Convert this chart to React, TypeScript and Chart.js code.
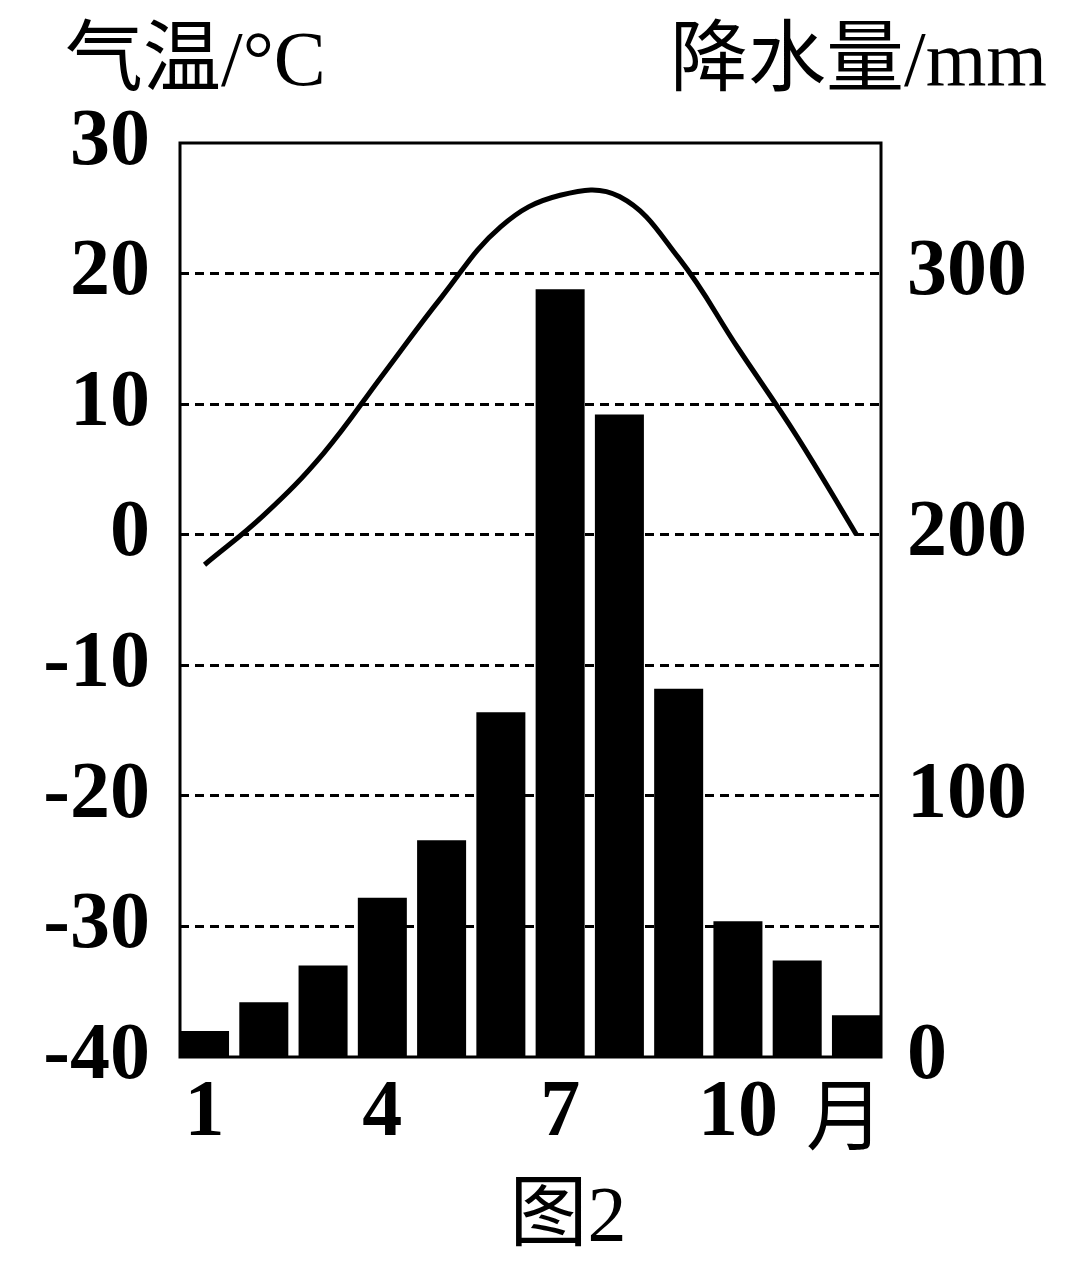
import React, { useEffect, useRef } from "react";
import { Chart, registerables } from "chart.js";

Chart.register(...registerables);

const months = [1, 2, 3, 4, 5, 6, 7, 8, 9, 10, 11, 12];
const monthLabels = ["1", "", "", "4", "", "", "7", "", "", "10", "", ""];
const monthUnit = "月";
const temperature = [-2.3, 1.5, 6.2, 12.2, 18.2, 23.6, 26.0, 25.9, 21.2, 14.3, 7.5, 0];
const precipitation = [10, 21, 35, 61, 83, 132, 294, 246, 141, 52, 37, 16];
const tempTicks = [-40, -30, -20, -10, 0, 10, 20, 30];
const precipTicks = [0, 100, 200, 300];
const leftTitle = "气温/°C";
const rightTitle = "降水量/mm";
const caption = "图2";

const FONT = "'Liberation Serif', 'Noto Sans CJK SC', serif";

const textPlugin = {
  id: "frameAndText",
  afterDraw(chart: any) {
    const { ctx, chartArea } = chart;
    ctx.save();
    ctx.strokeStyle = "#000";
    ctx.lineWidth = 3;
    ctx.setLineDash([]);
    ctx.strokeRect(chartArea.left, chartArea.top, chartArea.right - chartArea.left, chartArea.bottom - chartArea.top);
    ctx.fillStyle = "#000";
    ctx.font = `78px ${FONT}`;
    ctx.textBaseline = "middle";
    ctx.textAlign = "left";
    ctx.fillText(leftTitle, 65, 65);
    ctx.textAlign = "right";
    ctx.fillText(rightTitle, 1047, 65);
    ctx.textAlign = "center";
    ctx.fillText(caption, 568, 1220);
    ctx.fillText(monthUnit, 845, 1124);
    ctx.restore();
  },
};

export default function App() {
  const canvasRef = useRef<HTMLCanvasElement | null>(null);

  useEffect(() => {
    if (!canvasRef.current) return;
    const chart = new Chart(canvasRef.current, {
      type: "bar",
      data: {
        datasets: [
          {
            type: "line",
            label: "气温",
            data: months.map((m, i) => ({ x: m, y: temperature[i] })),
            yAxisID: "yL",
            borderColor: "#000",
            borderWidth: 5,
            pointRadius: 0,
            tension: 0.4,
            fill: false,
            order: 0,
          } as any,
          {
            type: "bar",
            label: "降水量",
            data: months.map((m, i) => ({ x: m, y: precipitation[i] })),
            yAxisID: "yR",
            backgroundColor: "#000",
            borderWidth: 0,
            barPercentage: 0.827,
            categoryPercentage: 1,
            order: 1,
          } as any,
        ],
      },
      options: {
        animation: false,
        responsive: true,
        maintainAspectRatio: false,
        layout: { padding: { left: 0, right: 0, top: 143, bottom: 102 } },
        plugins: { legend: { display: false }, tooltip: { enabled: false } },
        scales: {
          x: {
            type: "linear",
            position: "bottom",
            offset: false,
            min: 0.586,
            max: 12.414,
            afterBuildTicks: (s: any) => {
              s.ticks = months.map((m) => ({ value: m }));
            },
            afterFit: (s: any) => {
              s.height = 110;
            },
            grid: { display: false, drawTicks: false, offset: false },
            border: { display: false },
            ticks: {
              autoSkip: false,
              maxRotation: 0,
              padding: 9,
              color: "#000",
              font: { size: 80, family: FONT, weight: "bold" },
              callback: (_v: any, i: number) => monthLabels[i],
            },
          },
          yL: {
            type: "linear",
            position: "left",
            min: -40,
            max: 30,
            afterBuildTicks: (s: any) => {
              s.ticks = tempTicks.map((v) => ({ value: v }));
            },
            afterFit: (s: any) => {
              s.width = 180;
            },
            grid: {
              drawTicks: false,
              lineWidth: 3,
              color: (c: any) =>
                c.tick && c.tick.value > -40 && c.tick.value < 30 ? "#000" : "rgba(0,0,0,0)",
            },
            border: { display: false, dash: [9, 6] },
            ticks: {
              padding: 30,
              color: "#000",
              font: { size: 80, family: FONT, weight: "bold" },
              callback: (v: any) => String(v),
            },
          },
          yR: {
            type: "linear",
            position: "right",
            min: 0,
            max: 350,
            afterBuildTicks: (s: any) => {
              s.ticks = precipTicks.map((v) => ({ value: v }));
            },
            afterFit: (s: any) => {
              s.width = 199;
            },
            grid: { drawOnChartArea: false, drawTicks: false },
            border: { display: false },
            ticks: {
              padding: 26,
              color: "#000",
              font: { size: 80, family: FONT, weight: "bold" },
              callback: (v: any) => String(v),
            },
          },
        },
      } as any,
      plugins: [textPlugin],
    });
    return () => chart.destroy();
  }, []);

  return (
    <div style={{ position: "absolute", left: 0, top: 0, width: 1080, height: 1269, background: "#fff" }}>
      <canvas ref={canvasRef} />
    </div>
  );
}
